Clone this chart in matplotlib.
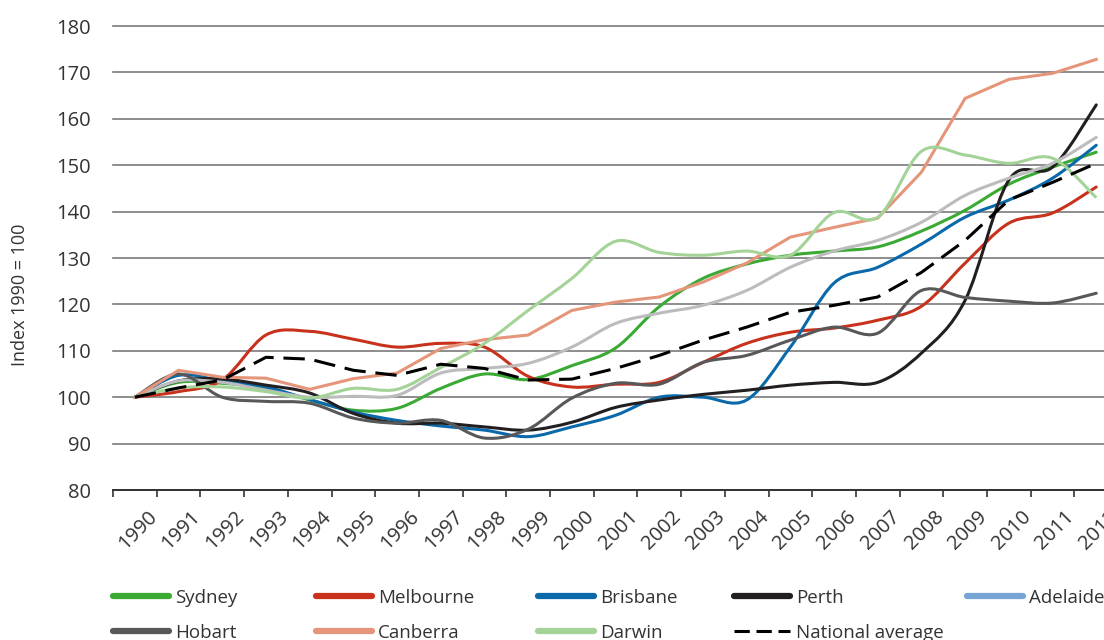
import numpy as np
import matplotlib
matplotlib.use("Agg")
import matplotlib.pyplot as plt
from matplotlib.path import Path
from matplotlib.patches import PathPatch
from matplotlib.lines import Line2D
import matplotlib.transforms as mtrans

plt.rcParams['font.family'] = ['Open Sans', 'DejaVu Sans']

# DATA (index, 1990 = 100)
years = [str(y) for y in range(1990, 2013)]

sydney = [100, 103.2, 103.0, 102.0, 99.4, 97.2, 97.6, 101.9, 105.0, 103.8, 106.8, 110.6,
          119.5, 125.6, 128.7, 130.6, 131.5, 132.4, 135.8, 140.3, 145.9, 149.6, 152.8]
melbourne = [100, 101.2, 103.7, 113.4, 114.2, 112.5, 110.8, 111.6, 110.8, 104.5, 102.2, 102.8,
             103.2, 107.5, 111.6, 114.0, 114.9, 116.6, 119.6, 128.9, 137.5, 139.7, 145.3]
brisbane = [100, 104.7, 103.5, 102.2, 99.5, 96.8, 95.0, 93.8, 92.9, 91.5, 93.6, 96.1,
            100.0, 100.0, 99.4, 110.8, 124.6, 128.0, 133.0, 138.8, 142.5, 147.2, 154.3]
perth = [100, 103.5, 103.9, 102.6, 100.9, 96.5, 94.4, 94.4, 93.6, 92.9, 94.6, 97.8,
         99.4, 100.6, 101.5, 102.6, 103.2, 103.2, 109.5, 120.9, 146.8, 149.6, 163.0]
adelaide = [100, 103.5, 103.2, 101.5, 100.0, 100.2, 100.4, 105.2, 106.2, 107.3, 110.8, 115.9,
            118.1, 119.8, 123.0, 128.0, 131.5, 133.8, 137.7, 143.5, 147.2, 150.4, 156.0]
hobart = [100, 105.0, 100.0, 99.1, 98.7, 95.5, 94.4, 95.0, 91.2, 93.1, 99.8, 103.0,
          102.8, 107.5, 109.0, 112.3, 115.1, 113.8, 123.0, 121.5, 120.7, 120.3, 122.4]
canberra = [100, 105.8, 104.3, 104.1, 101.7, 104.0, 105.2, 110.5, 112.4, 113.4, 118.7, 120.5,
            121.6, 124.8, 128.9, 134.5, 136.6, 138.6, 148.5, 164.4, 168.5, 169.8, 172.8]
darwin = [100, 102.0, 102.2, 101.2, 99.8, 101.9, 101.7, 106.4, 111.6, 118.7, 125.6, 133.6,
          131.2, 130.6, 131.5, 130.6, 139.8, 138.8, 153.0, 152.2, 150.4, 151.5, 143.0]
national = [100, 102.0, 103.7, 108.6, 108.2, 105.8, 104.7, 107.1, 106.2, 103.7, 103.9, 106.2,
            109.0, 112.3, 115.1, 118.3, 119.8, 121.6, 126.9, 133.8, 142.5, 146.3, 150.4]

yticks = list(range(80, 190, 10))


def smooth_path(xs, ys):
    # Excel-like smoothed line through the points (cubic bezier segments)
    pts = np.column_stack([xs, ys]).astype(float)
    n = len(pts)
    verts = [pts[0]]
    codes = [Path.MOVETO]
    for i in range(n - 1):
        p0 = pts[i - 1] if i > 0 else pts[i]
        p1 = pts[i]
        p2 = pts[i + 1]
        p3 = pts[i + 2] if i + 2 < n else pts[i + 1]
        verts += [p1 + (p2 - p0) / 6, p2 - (p3 - p1) / 6, p2]
        codes += [Path.CURVE4] * 3
    return Path(verts, codes)


W, H = 1104, 640
fig = plt.figure(figsize=(W / 100, H / 100), dpi=100)
left, right, top, bottom = 113, 113 + 23 * 43.7, 26, 490
ax = fig.add_axes([left / W, 1 - bottom / H, (right - left) / W, (bottom - top) / H])

x = np.arange(len(years))
ax.set_xlim(-0.5, len(years) - 0.5)
ax.set_ylim(80, 180)

for v in yticks:
    ax.axhline(v, color='#7a7a7a', lw=1.2, zorder=0, clip_on=False)
ax.axhline(80, color='#333333', lw=1.4, zorder=1, clip_on=False)

smooth_series = [
    (sydney, '#3aaa35'),
    (melbourne, '#c8321d'),
    (brisbane, '#0a69aa'),
    (perth, '#231f20'),
    (adelaide, '#bcbcbe'),
    (hobart, '#58585a'),
]
for vals, col in smooth_series:
    ax.add_patch(PathPatch(smooth_path(x, vals), fill=False, edgecolor=col,
                           lw=2.2, capstyle='round', zorder=3))
ax.plot(x, canberra, color='#e5967a', lw=2.2, zorder=3, solid_joinstyle='miter')
ax.add_patch(PathPatch(smooth_path(x, darwin), fill=False, edgecolor='#a3d396',
                       lw=2.2, zorder=3))
ax.plot(x, national, color='black', lw=2.2, dashes=(7, 3.2), zorder=4)

for s in ax.spines.values():
    s.set_visible(False)

ax.set_yticks(yticks)
ax.tick_params(axis='y', length=0, pad=16, labelsize=14.5, labelcolor='#333333')
ax.set_xticks(x)
ax.set_xticklabels(years, rotation=45, ha='right', rotation_mode='anchor',
                   fontsize=14.5, color='#333333')
ax.tick_params(axis='x', length=0, pad=12)
ax.set_xticks(np.arange(-0.5, len(years), 1), minor=True)
ax.tick_params(axis='x', which='minor', length=5, width=1.2, color='#333333')
offset = mtrans.ScaledTranslation(12 / 100, 0, fig.dpi_scale_trans)
for lab in ax.get_xticklabels():
    lab.set_transform(lab.get_transform() + offset)

fig.text(20 / W, 1 - 295 / H, 'Index 1990 = 100', rotation=90, ha='center', va='center',
         fontsize=13, color='#333333')

# legend, laid out in five columns like the original
cols = [
    (113, [('Sydney', '#3aaa35', '-'), ('Hobart', '#58585a', '-')]),
    (316, [('Melbourne', '#c8321d', '-'), ('Canberra', '#e5967a', '-')]),
    (538, [('Brisbane', '#0a69aa', '-'), ('Darwin', '#a3d396', '-')]),
    (734, [('Perth', '#231f20', '-'), ('National average', 'black', '--')]),
    (967, [('Adelaide', '#76a5d5', '-')]),
]
for xpos, items in cols:
    handles = []
    for name, col, ls in items:
        if ls == '--':
            h = Line2D([], [], color=col, lw=2.2, dashes=(5, 2.2), label=name)
        else:
            h = Line2D([], [], color=col, lw=4.5, solid_capstyle='round', label=name)
        handles.append(h)
    fig.legend(handles=handles, loc='upper left', bbox_to_anchor=(xpos / W, 1 - 589 / H),
               frameon=False, fontsize=13.5, handlelength=3.0, handletextpad=0.3,
               labelspacing=0.9, borderaxespad=0, borderpad=0, labelcolor='#333333')

fig.savefig('out.png', dpi=100)
